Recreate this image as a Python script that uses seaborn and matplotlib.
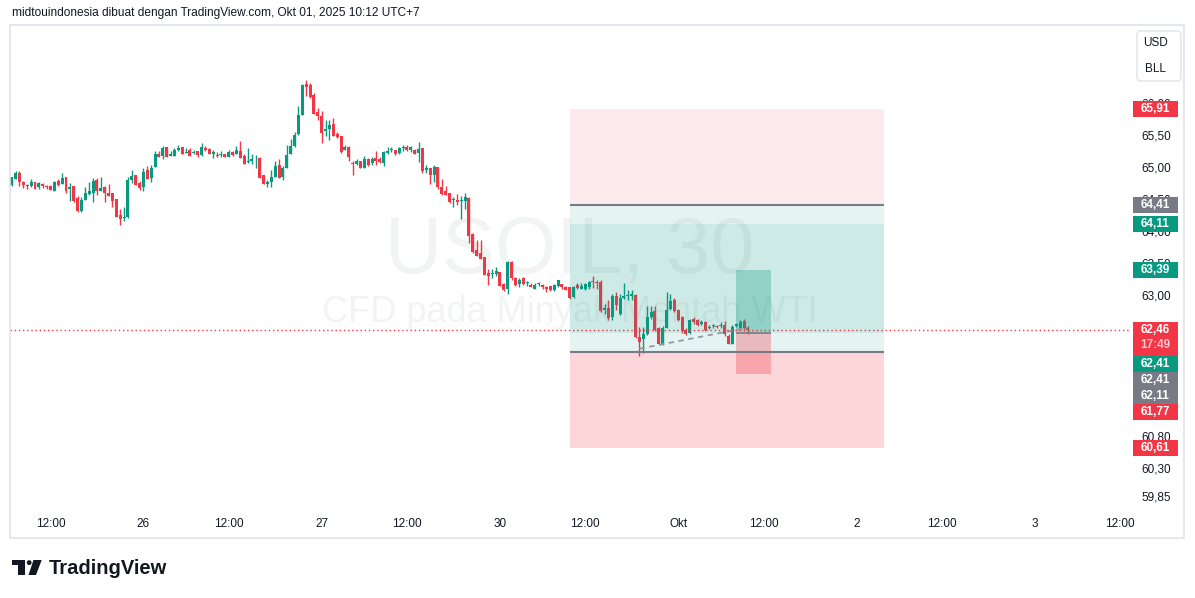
import matplotlib
matplotlib.use("Agg")
import matplotlib.pyplot as plt
import matplotlib.transforms as mtransforms
from matplotlib.patches import Rectangle, FancyBboxPatch, Polygon, Circle
import seaborn as sns


# ---------------------------------------------
# Data: USOIL 30m candles
# ---------------------------------------------
opens = [
    64.72, 64.82, 64.91, 64.77, 64.72, 64.70, 64.76, 64.69, 64.73, 64.71,
    64.71, 64.63, 64.78, 64.73, 64.84, 64.66, 64.70, 64.52, 64.31, 64.49,
    64.58, 64.60, 64.80, 64.63, 64.69, 64.59, 64.59, 64.50, 64.25, 64.21,
    64.22, 64.79, 64.88, 64.75, 64.69, 64.95, 64.83, 65.00, 65.20, 65.17,
    65.31, 65.17, 65.17, 65.27, 65.31, 65.22, 65.27, 65.22, 65.25, 65.19,
    65.30, 65.28, 65.20, 65.19, 65.19, 65.21, 65.16, 65.23, 65.21, 65.25,
    65.17, 65.08, 65.10, 65.15, 65.14, 64.88, 64.74, 64.76, 64.84, 65.03,
    64.84, 64.99, 65.21, 65.33, 65.51, 65.82, 66.29, 66.28, 66.12, 65.86,
    65.80, 65.57, 65.60, 65.68, 65.52, 65.48, 65.27, 65.32, 65.07, 65.05,
    65.10, 64.99, 65.13, 65.06, 65.14, 65.13, 65.07, 65.22, 65.27, 65.26,
    65.22, 65.29, 65.31, 65.26, 65.27, 65.22, 65.29, 64.96, 64.98, 64.87,
    65.00, 64.69, 64.63, 64.59, 64.49, 64.49, 64.47, 64.47, 64.52, 63.96,
    63.70, 63.66, 63.60, 63.35, 63.32, 63.32, 63.36, 63.17, 63.09, 63.52,
    63.27, 63.17, 63.27, 63.19, 63.16, 63.10, 63.17, 63.16, 63.13, 63.14,
    63.08, 63.14, 63.17, 63.13, 63.12, 62.97, 63.15, 63.09, 63.09, 63.12,
    63.22, 63.21, 63.21, 62.77, 62.79, 62.66, 62.98, 62.70, 62.96, 62.98,
    62.99, 63.00, 62.35, 62.31, 62.39, 62.65, 62.75, 62.48, 62.24, 62.49,
    62.78, 62.92, 62.77, 62.66, 62.46, 62.40, 62.62, 62.61, 62.54, 62.57,
    62.49, 62.52, 62.52, 62.52, 62.53, 62.36, 62.24, 62.52, 62.49, 62.60,
    62.48,
]
highs = [
    64.85, 64.93, 64.93, 64.78, 64.74, 64.81, 64.77, 64.76, 64.75, 64.72,
    64.72, 64.78, 64.81, 64.91, 64.85, 64.75, 64.71, 64.55, 64.53, 64.69,
    64.76, 64.83, 64.83, 64.84, 64.70, 64.73, 64.60, 64.50, 64.34, 64.37,
    64.85, 64.96, 64.88, 64.78, 64.99, 65.02, 65.03, 65.25, 65.25, 65.33,
    65.32, 65.25, 65.29, 65.34, 65.32, 65.30, 65.29, 65.27, 65.25, 65.38,
    65.33, 65.30, 65.26, 65.23, 65.25, 65.21, 65.27, 65.25, 65.33, 65.40,
    65.20, 65.29, 65.20, 65.19, 65.15, 64.88, 64.80, 64.96, 65.09, 65.12,
    65.01, 65.34, 65.44, 65.54, 65.95, 66.29, 66.36, 66.32, 66.16, 65.93,
    65.87, 65.74, 65.73, 65.76, 65.54, 65.48, 65.35, 65.33, 65.09, 65.12,
    65.10, 65.17, 65.14, 65.15, 65.25, 65.16, 65.25, 65.31, 65.31, 65.27,
    65.32, 65.35, 65.35, 65.33, 65.28, 65.39, 65.30, 65.03, 64.99, 65.03,
    65.00, 64.81, 64.70, 64.60, 64.53, 64.58, 64.54, 64.60, 64.53, 63.97,
    63.86, 63.86, 63.60, 63.40, 63.40, 63.44, 63.36, 63.19, 63.53, 63.53,
    63.28, 63.26, 63.28, 63.22, 63.18, 63.18, 63.20, 63.17, 63.14, 63.14,
    63.17, 63.23, 63.17, 63.14, 63.12, 63.14, 63.18, 63.18, 63.19, 63.22,
    63.30, 63.23, 63.23, 62.86, 62.92, 63.02, 63.04, 63.02, 63.18, 63.07,
    63.07, 63.02, 62.50, 62.50, 62.83, 62.83, 62.83, 62.50, 62.52, 63.05,
    63.01, 62.95, 62.78, 62.67, 62.49, 62.62, 62.65, 62.62, 62.61, 62.59,
    62.53, 62.55, 62.53, 62.57, 62.60, 62.39, 62.53, 62.56, 62.61, 62.62,
    62.52,
]
lows = [
    64.70, 64.81, 64.70, 64.67, 64.66, 64.68, 64.66, 64.66, 64.67, 64.66,
    64.64, 64.63, 64.70, 64.73, 64.59, 64.47, 64.46, 64.29, 64.29, 64.48,
    64.56, 64.46, 64.57, 64.62, 64.45, 64.55, 64.37, 64.22, 64.09, 64.16,
    64.21, 64.75, 64.72, 64.64, 64.62, 64.81, 64.76, 65.00, 65.15, 65.12,
    65.15, 65.17, 65.17, 65.25, 65.20, 65.22, 65.18, 65.21, 65.15, 65.18,
    65.25, 65.20, 65.14, 65.16, 65.15, 65.15, 65.16, 65.17, 65.21, 65.14,
    65.04, 65.07, 65.05, 64.99, 64.83, 64.74, 64.68, 64.69, 64.84, 64.83,
    64.79, 64.98, 65.20, 65.32, 65.50, 65.82, 66.11, 66.08, 65.83, 65.74,
    65.38, 65.48, 65.42, 65.48, 65.46, 65.22, 65.26, 65.09, 64.88, 65.03,
    64.99, 64.99, 65.01, 65.03, 65.03, 65.07, 65.02, 65.21, 65.24, 65.19,
    65.21, 65.25, 65.25, 65.24, 65.20, 65.08, 64.91, 64.90, 64.73, 64.76,
    64.65, 64.57, 64.56, 64.44, 64.37, 64.41, 64.19, 64.34, 63.82, 63.65,
    63.61, 63.57, 63.31, 63.16, 63.27, 63.30, 63.14, 63.06, 63.02, 63.23,
    63.14, 63.13, 63.16, 63.14, 63.12, 63.09, 63.14, 63.10, 63.05, 63.06,
    63.06, 63.13, 63.09, 63.07, 62.93, 62.95, 63.09, 63.09, 63.07, 63.10,
    63.11, 63.09, 62.74, 62.70, 62.61, 62.61, 62.77, 62.68, 62.93, 62.92,
    62.92, 62.33, 62.05, 62.10, 62.38, 62.62, 62.44, 62.23, 62.22, 62.48,
    62.77, 62.74, 62.60, 62.40, 62.38, 62.39, 62.55, 62.52, 62.53, 62.43,
    62.47, 62.49, 62.49, 62.49, 62.36, 62.24, 62.23, 62.50, 62.48, 62.47,
    62.39,
]
closes = [
    64.84, 64.91, 64.77, 64.72, 64.70, 64.77, 64.66, 64.75, 64.70, 64.69,
    64.64, 64.76, 64.72, 64.83, 64.63, 64.69, 64.47, 64.31, 64.49, 64.59,
    64.62, 64.78, 64.62, 64.67, 64.59, 64.55, 64.47, 64.22, 64.19, 64.22,
    64.80, 64.86, 64.72, 64.67, 64.92, 64.81, 64.99, 65.20, 65.15, 65.30,
    65.16, 65.21, 65.27, 65.30, 65.21, 65.23, 65.18, 65.24, 65.19, 65.31,
    65.27, 65.20, 65.23, 65.17, 65.20, 65.15, 65.24, 65.19, 65.27, 65.14,
    65.05, 65.10, 65.13, 65.16, 64.83, 64.74, 64.76, 64.85, 65.02, 64.83,
    64.99, 65.19, 65.33, 65.50, 65.81, 66.28, 66.25, 66.09, 65.83, 65.80,
    65.53, 65.60, 65.66, 65.48, 65.47, 65.23, 65.31, 65.16, 65.04, 65.10,
    64.99, 65.13, 65.03, 65.13, 65.10, 65.08, 65.23, 65.25, 65.28, 65.21,
    65.29, 65.31, 65.27, 65.31, 65.21, 65.28, 64.93, 64.98, 64.87, 65.00,
    64.69, 64.58, 64.56, 64.46, 64.50, 64.46, 64.48, 64.53, 63.92, 63.67,
    63.61, 63.57, 63.31, 63.29, 63.35, 63.37, 63.14, 63.08, 63.51, 63.27,
    63.15, 63.24, 63.17, 63.20, 63.13, 63.15, 63.19, 63.12, 63.09, 63.08,
    63.15, 63.23, 63.13, 63.08, 62.95, 63.13, 63.11, 63.14, 63.17, 63.21,
    63.20, 63.19, 62.75, 62.79, 62.64, 62.99, 62.84, 62.95, 62.98, 63.00,
    63.01, 62.35, 62.27, 62.39, 62.66, 62.74, 62.46, 62.24, 62.48, 62.77,
    62.91, 62.75, 62.61, 62.43, 62.39, 62.61, 62.57, 62.53, 62.57, 62.45,
    62.50, 62.53, 62.50, 62.53, 62.39, 62.24, 62.50, 62.54, 62.58, 62.48,
    62.46,
]

# time axis (bar index of each label)
tick_pos = [10, 34, 56, 80, 102, 126, 148, 172, 194, 218, 240, 264, 286]
tick_labels = ["12:00", "26", "12:00", "27", "12:00", "30", "12:00",
               "Okt", "12:00", "2", "12:00", "3", "12:00"]

# price axis ticks that stay visible
price_ticks = [66.00, 65.50, 65.00, 64.50, 64.00, 63.50, 63.00, 60.80, 60.30, 59.85]

# position tools drawn on the chart
short_entry, short_stop, short_target = 64.41, 65.91, 62.41
long_entry, long_target, long_stop = 62.11, 64.11, 60.61
small_entry, small_target, small_stop = 62.41, 63.39, 61.77
tool_bars = [144, 225]
small_bars = [187, 196]

# trend line
trend_bars = [162, 190]
trend_prices = [62.16, 62.49]

last_price = 62.46
countdown = "17:49"

# right-hand price tags
tag_values = [65.91, 64.41, 64.11, 63.39, 62.46, 62.41, 62.41, 62.11, 61.77, 60.61]
tag_kinds = ["red", "gray", "teal", "teal", "last", "teal", "gray", "gray", "red", "red"]

header = "midtouindonesia dibuat dengan TradingView.com, Okt 01, 2025 10:12 UTC+7"


GREEN = "#089981"
RED = "#F23645"
GRAY = "#787B86"
TEXT = "#131722"
BORDER = "#E0E3EB"
W, H = 1195, 598


def fmt(v):
    return f"{v:.2f}".replace(".", ",")


def create_chart():

    sns.set_style("white")
    plt.rcParams["font.family"] = ["Liberation Sans", "DejaVu Sans"]

    fig = plt.figure(figsize=(W / 100, H / 100), dpi=100)
    fig.patch.set_facecolor("white")

    # pixel transform for the frame, logo and header (y measured downward)
    px = mtransforms.Affine2D().scale(1 / W, -1 / H).translate(0, 1) + fig.transFigure

    ax = fig.add_axes([10 / W, 1 - 508 / H, 1120 / W, 483 / H])
    ax.set_facecolor("white")

    # watermark
    ax.text(0.5, 0.487, "USOIL, 30", transform=ax.transAxes, ha="center",
            va="baseline", fontsize=57, color=TEXT, alpha=0.05, zorder=0)
    ax.text(0.5, 0.385, "CFD pada Minyak Mentah WTI", transform=ax.transAxes,
            ha="center", va="baseline", fontsize=26, color=TEXT, alpha=0.05, zorder=0)

    # ---------------- candles ----------------
    idx = list(range(len(opens)))
    cols = [GREEN if c >= o else RED for o, c in zip(opens, closes)]
    ax.vlines(idx, lows, highs, colors=cols, lw=1, zorder=2)
    bottoms = [min(o, c) for o, c in zip(opens, closes)]
    heights = [max(abs(c - o), 0.014) for o, c in zip(opens, closes)]
    ax.bar(idx, heights, bottom=bottoms, width=0.75, color=cols, lw=0, zorder=2)

    # ---------------- position tools ----------------
    x0, x1 = tool_bars
    span = x1 - x0
    ax.add_patch(Rectangle((x0, short_entry), span, short_stop - short_entry,
                           facecolor=RED, alpha=0.1, lw=0, zorder=3))
    ax.add_patch(Rectangle((x0, short_target), span, short_entry - short_target,
                           facecolor=GREEN, alpha=0.1, lw=0, zorder=3))
    ax.add_patch(Rectangle((x0, long_entry), span, long_target - long_entry,
                           facecolor=GREEN, alpha=0.1, lw=0, zorder=3))
    ax.add_patch(Rectangle((x0, long_stop), span, long_entry - long_stop,
                           facecolor=RED, alpha=0.2, lw=0, zorder=3))
    ax.hlines([short_entry, long_entry], x0, x1, colors=GRAY, lw=1.5, zorder=3.5)

    s0, s1 = small_bars
    ax.add_patch(Rectangle((s0, small_entry), s1 - s0, small_target - small_entry,
                           facecolor=GREEN, alpha=0.3, lw=0, zorder=3))
    ax.add_patch(Rectangle((s0, small_stop), s1 - s0, small_entry - small_stop,
                           facecolor=RED, alpha=0.3, lw=0, zorder=3))
    ax.hlines(small_entry, s0, s1, colors=GRAY, lw=1.2, zorder=3.5)

    # trend line and last price line
    sns.lineplot(x=trend_bars, y=trend_prices, ax=ax, color="#9598A1", lw=1.3,
                 linestyle=(0, (3, 2.5)), zorder=4)
    ax.axhline(last_price, color=RED, lw=1, linestyle=(0, (1, 2)), zorder=4)

    # ---------------- axes ----------------
    ax.set_xlim(-0.44, 288.6)
    ax.set_ylim(59.67, 67.22)
    for s in ax.spines.values():
        s.set_visible(False)
    ax.grid(False)

    ax.set_xticks(tick_pos, tick_labels)
    ax.tick_params(axis="x", length=0, pad=7, labelsize=8.5, labelcolor=TEXT)
    ax.yaxis.tick_right()
    ax.set_yticks(price_ticks, [fmt(v) for v in price_ticks])
    ax.tick_params(axis="y", length=0, pad=8.5, labelsize=8.5, labelcolor=TEXT)

    # ---------------- price tags ----------------
    ppu = ax.bbox.height / (67.22 - 59.67)
    h = 16 / ppu
    extra = 18 / ppu
    trans = mtransforms.blended_transform_factory(fig.transFigure, ax.transData)
    tag_x0 = 1133 / W
    tag_w = 45 / W
    colors = {"red": RED, "last": RED, "gray": GRAY, "teal": GREEN}
    lower = None
    for val, kind in zip(tag_values, tag_kinds):
        c = val if lower is None else min(val, lower - h / 2)
        top = c + h / 2
        bottom = c - h / 2 - (extra if kind == "last" else 0)
        ax.add_patch(Rectangle((tag_x0, bottom), tag_w, top - bottom, transform=trans,
                               facecolor=colors[kind], lw=0, zorder=5, clip_on=False))
        ax.text(tag_x0 + tag_w / 2, c, fmt(val), transform=trans, ha="center",
                va="center", color="white", fontsize=8.5, fontweight="bold",
                zorder=6, clip_on=False)
        if kind == "last":
            ax.text(tag_x0 + tag_w / 2, c - 15 / ppu, countdown, transform=trans,
                    ha="center", va="center", color="#FDC9CE", fontsize=8.5,
                    fontweight="bold", zorder=6, clip_on=False)
        lower = bottom

    # ---------------- frame, header, currency box ----------------
    fig.add_artist(Rectangle((10, 25), 1174, 513, transform=px, fill=False,
                             edgecolor=BORDER, lw=1.2))
    fig.text(11.5 / W, 1 - 13 / H, header, fontsize=8.6, color=TEXT, va="center", ha="left")

    fig.add_artist(FancyBboxPatch((1137, 31), 44, 50, transform=px,
                                  boxstyle="round,pad=0,rounding_size=4",
                                  facecolor="white", edgecolor=BORDER, lw=1))
    fig.text(1155 / W, 1 - 43 / H, "USD", ha="center", va="center", fontsize=8.5, color=TEXT)
    fig.text(1155 / W, 1 - 69 / H, "BLL", ha="center", va="center", fontsize=8.5, color=TEXT)

    # ---------------- TradingView logo ----------------
    fig.add_artist(Rectangle((12.3, 560), 12.7, 5, transform=px, facecolor=TEXT, lw=0))
    fig.add_artist(Rectangle((18.5, 560), 6.5, 15, transform=px, facecolor=TEXT, lw=0))
    fig.add_artist(Circle((29.2, 562.6), 2.4, transform=px, facecolor=TEXT, lw=0))
    fig.add_artist(Polygon([(33.5, 560), (41.7, 560), (36, 575), (28.5, 575)],
                           transform=px, facecolor=TEXT, lw=0))
    fig.text(49 / W, 1 - 574.5 / H, "TradingView", fontsize=14.5, fontweight="bold",
             color=TEXT, va="baseline", ha="left")

    fig.savefig("out.png", dpi=100, facecolor="white")


if __name__ == "__main__":
    create_chart()
